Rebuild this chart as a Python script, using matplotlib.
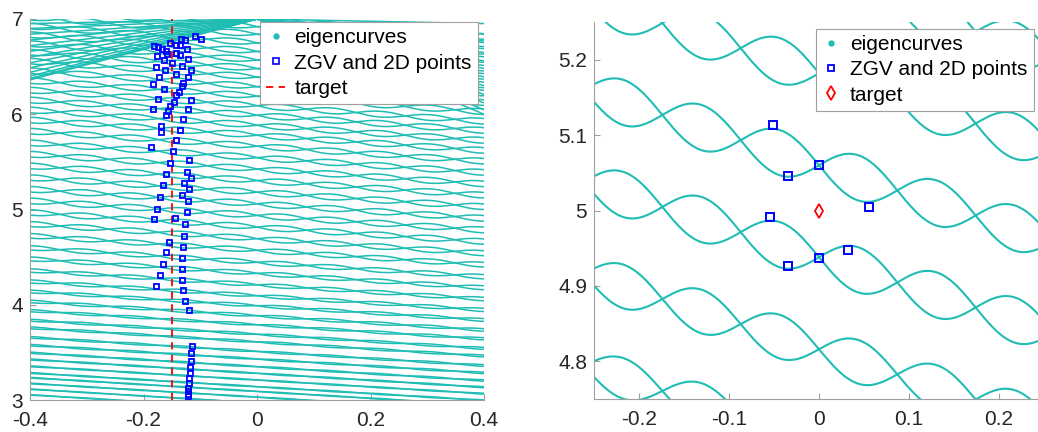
import numpy as np
import matplotlib
matplotlib.use("Agg")
from matplotlib import pyplot as plt
from matplotlib.lines import Line2D

plt.rcParams["font.family"] = ["Liberation Sans", "DejaVu Sans"]
plt.rcParams["axes.unicode_minus"] = False

# eigencurve rows: value at x=0, downward slope, wiggle amplitude (each row = two curves in antiphase)
row_centres = [2.91, 2.97, 3.03, 3.09, 3.14, 3.21, 3.28, 3.35, 3.43, 3.51, 3.61, 3.69, 3.79,
               3.885, 3.99, 4.095, 4.21, 4.33, 4.446, 4.572, 4.694, 4.816, 4.938, 5.06, 5.182,
               5.304, 5.425, 5.545, 5.665, 5.78, 5.885, 5.99, 6.09, 6.19, 6.29, 6.39, 6.48,
               6.57, 6.66, 6.75, 6.84, 6.92, 7.0]
row_slopes = [0.36, 0.36, 0.36, 0.36, 0.36, 0.36, 0.365, 0.365, 0.365, 0.37, 0.37, 0.37, 0.37,
              0.375, 0.375, 0.375, 0.375, 0.38, 0.38, 0.38, 0.383, 0.383, 0.383, 0.383, 0.383,
              0.385, 0.39, 0.39, 0.395, 0.40, 0.40, 0.40, 0.41, 0.41, 0.42, 0.42, 0.43,
              0.43, 0.44, 0.44, 0.45, 0.45, 0.46]
row_amps = [0.003, 0.003, 0.004, 0.004, 0.005, 0.005, 0.006, 0.007, 0.008, 0.009, 0.010, 0.011, 0.012,
            0.014, 0.015, 0.017, 0.019, 0.021, 0.023, 0.025, 0.027, 0.029, 0.030, 0.030, 0.030,
            0.030, 0.030, 0.030, 0.030, 0.030, 0.030, 0.030, 0.030, 0.030, 0.030, 0.030, 0.030,
            0.030, 0.030, 0.030, 0.030, 0.030, 0.030]
wave_k = 36.1  # angular wavenumber of the wiggles (period ~0.174)

# straight fan lines meeting at the apex (0, 7)
apex_y = 7.0
fan_left_slopes = [1.6, 1.56, 1.5, 1.4, 1.28, 1.15, 1.0, 0.85, 0.7, 0.55, 0.4, 0.25, 0.12]
fan_right_slopes = [0.12, 0.4, 0.62, 0.88, 1.1, 1.3, 1.52, 1.75, 1.98, 2.2, 2.38, 2.5]

# ZGV / double eigenvalue points, left (overview)
zgv_x = [-0.181, -0.174, -0.167, -0.160, -0.154, -0.143, -0.134, -0.126, -0.110, -0.098,
         -0.124, -0.136, -0.176, -0.159, -0.136, -0.143, -0.121, -0.163, -0.150, -0.178,
         -0.132, -0.162, -0.116, -0.143, -0.122, -0.173, -0.131, -0.184, -0.133, -0.164,
         -0.138, -0.143, -0.174, -0.116, -0.146, -0.153, -0.184, -0.122, -0.156, -0.160,
         -0.130, -0.169, -0.136, -0.170, -0.142, -0.186, -0.148, -0.119, -0.154, -0.124,
         -0.160, -0.116, -0.166, -0.129, -0.119, -0.171, -0.133, -0.121, -0.176, -0.124,
         -0.181, -0.144, -0.126, -0.129, -0.155, -0.130, -0.160, -0.132, -0.166, -0.133,
         -0.171, -0.132, -0.178, -0.131, -0.127, -0.119, -0.115, -0.116, -0.117, -0.118,
         -0.118, -0.120, -0.120, -0.121, -0.122, -0.122, -0.122]
zgv_y = [6.72, 6.706, 6.69, 6.667, 6.748, 6.724, 6.793, 6.776, 6.82, 6.79,
         6.68, 6.73, 6.61, 6.63, 6.62, 6.64, 6.58, 6.57, 6.54, 6.50,
         6.51, 6.46, 6.46, 6.42, 6.39, 6.39, 6.325, 6.32, 6.30, 6.26,
         6.23, 6.20, 6.16, 6.15, 6.125, 6.087, 6.06, 6.05, 6.03, 5.99,
         5.95, 5.88, 5.835, 5.81, 5.73, 5.66, 5.61, 5.52, 5.49, 5.39,
         5.375, 5.33, 5.26, 5.28, 5.21, 5.13, 5.155, 5.09, 5.01, 4.97,
         4.90, 4.91, 4.845, 4.725, 4.66, 4.61, 4.55, 4.49, 4.43, 4.375,
         4.31, 4.26, 4.20, 4.15, 4.04, 3.94, 3.57, 3.49, 3.41, 3.35,
         3.28, 3.23, 3.18, 3.13, 3.095, 3.065, 3.045]
target_x = -0.15

# ZGV / double eigenvalue points, right (zoom near target)
zoom_zgv_x = [-0.051, -0.034, 0.0, 0.055, -0.054, -0.034, 0.0, 0.032]
zoom_zgv_y = [5.113, 5.046, 5.061, 5.004, 4.991, 4.926, 4.937, 4.948]
zoom_target = (0.0, 5.0)

teal = "#1fbdb4"
axis_grey = "#a0a0a0"
text_col = "#262626"

fig = plt.figure(figsize=(10.38, 4.32), dpi=100)
ax1 = fig.add_axes([30 / 1038, 32 / 432, 454 / 1038, 381 / 432])
ax2 = fig.add_axes([594 / 1038, 33 / 432, 450 / 1038, 377 / 432])


def draw_rows(ax, xs, lw):
    for c, m, a in zip(row_centres, row_slopes, row_amps):
        for sgn in (1, -1):
            ax.plot(xs, c - m * xs + sgn * a * np.sin(wave_k * xs), color=teal, lw=lw,
                    solid_capstyle="butt")


def style_axes(ax, xticks, yticks):
    for side in ("top", "right"):
        ax.spines[side].set_visible(False)
    for side in ("left", "bottom"):
        ax.spines[side].set_color(axis_grey)
        ax.spines[side].set_linewidth(0.8)
    ax.set_xticks(xticks)
    ax.set_yticks(yticks)
    ax.set_xticklabels(["%g" % t for t in xticks])
    ax.set_yticklabels(["%g" % t for t in yticks])
    ax.tick_params(direction="in", length=4, color=axis_grey, labelsize=15,
                   labelcolor=text_col)
    ax.tick_params(axis="x", pad=8)
    ax.tick_params(axis="y", pad=5)


def add_legend(ax, handles, anchor):
    leg = ax.legend(handles, ["eigencurves", "ZGV and 2D points", "target"], loc="upper right",
                    bbox_to_anchor=anchor, fontsize=15, frameon=True, fancybox=False,
                    handlelength=0.9, handletextpad=0.45, borderpad=0.3, labelspacing=0.3,
                    borderaxespad=0.0)
    leg.get_frame().set_edgecolor(axis_grey)
    leg.get_frame().set_linewidth(0.8)
    leg.get_frame().set_alpha(1)
    return leg


# left panel: overview
xs = np.linspace(-0.4, 0.4, 1200)
draw_rows(ax1, xs, 1.1)
xl = np.linspace(-0.4, 0.0, 200)
for s in fan_left_slopes:
    ax1.plot(xl, apex_y + s * xl, color=teal, lw=1.1)
xr = np.linspace(0.0, 0.4, 200)
for s in fan_right_slopes:
    ax1.plot(xr, apex_y - s * xr, color=teal, lw=1.1)
ax1.axvline(target_x, color="red", ls=(0, (4, 3)), lw=1.3, zorder=3)
ax1.plot(zgv_x, zgv_y, "s", ms=3.6, mfc="none", mec="blue", mew=1.3, zorder=4)
ax1.set_xlim(-0.4, 0.4)
ax1.set_ylim(3, 7)
style_axes(ax1, [-0.4, -0.2, 0, 0.2, 0.4], [3, 4, 5, 6, 7])

h1 = [Line2D([], [], ls="none", marker=".", ms=7, color=teal),
      Line2D([], [], ls="none", marker="s", ms=4, mfc="none", mec="blue", mew=1.2),
      Line2D([], [], color="red", ls=(0, (4, 3)), lw=1.3)]
add_legend(ax1, h1, (0.987, 0.992))

# right panel: zoom near target
xs2 = np.linspace(-0.25, 0.25, 1000)
draw_rows(ax2, xs2, 1.5)
ax2.plot(zoom_zgv_x, zoom_zgv_y, "s", ms=5.5, mfc="none", mec="blue", mew=1.4, zorder=4)
ax2.plot([zoom_target[0]], [zoom_target[1]], "d", ms=7.5, mfc="none", mec="red", mew=1.3, zorder=4)
ax2.set_xlim(-0.25, 0.25)
ax2.set_ylim(4.75, 5.25)
style_axes(ax2, [-0.2, -0.1, 0, 0.1, 0.2], [4.8, 4.9, 5.0, 5.1, 5.2])

h2 = [Line2D([], [], ls="none", marker=".", ms=7, color=teal),
      Line2D([], [], ls="none", marker="s", ms=5, mfc="none", mec="blue", mew=1.3),
      Line2D([], [], ls="none", marker="d", ms=7, mfc="none", mec="red", mew=1.3)]
add_legend(ax2, h2, (0.977, 0.982))

fig.savefig("out.png", dpi=100)
